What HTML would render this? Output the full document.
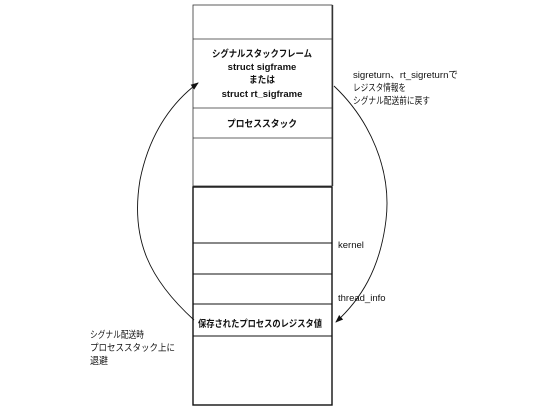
<!DOCTYPE html>
<html><head><meta charset="utf-8"><style>
html,body{margin:0;padding:0;background:#fff;}
svg text{font-family:"Liberation Sans","Noto Sans CJK JP",sans-serif;font-size:9.5px;fill:#111;}
</style></head><body>
<svg width="549" height="412" viewBox="0 0 549 412">
<defs><marker id="ah" markerWidth="8" markerHeight="8" refX="7" refY="4" orient="auto" markerUnits="userSpaceOnUse"><path d="M0,1 L8,4 L0,7 Z" fill="#111"/></marker></defs>
<g fill="none" stroke="#333" stroke-width="0.8">
<rect x="193" y="5" width="139" height="181"/>
<line x1="193" y1="39" x2="332" y2="39"/>
<line x1="193" y1="108" x2="332" y2="108"/>
<line x1="193" y1="138" x2="332" y2="138"/>
<line x1="332.5" y1="5" x2="332.5" y2="186" stroke-width="1.4"/>
</g>
<g fill="none" stroke="#111" stroke-width="1.4">
<rect x="193" y="187" width="139" height="218"/>
<line x1="193" y1="243" x2="332" y2="243" stroke-width="1"/>
<line x1="193" y1="274" x2="332" y2="274" stroke-width="1"/>
<line x1="193" y1="304" x2="332" y2="304" stroke-width="1"/>
<line x1="193" y1="336" x2="332" y2="336" stroke-width="1"/>
</g>
<g text-anchor="middle" font-weight="bold">
<text x="262" y="57" textLength="100" lengthAdjust="spacingAndGlyphs">シグナルスタックフレーム</text>
<text x="262" y="70">struct sigframe</text>
<text x="262" y="83" textLength="26" lengthAdjust="spacingAndGlyphs">または</text>
<text x="262" y="97">struct rt_sigframe</text>
<text x="262" y="127" textLength="70" lengthAdjust="spacingAndGlyphs">プロセススタック</text>
</g>
<text x="198" y="327" font-weight="bold" textLength="124" lengthAdjust="spacingAndGlyphs">保存されたプロセスのレジスタ値</text>
<text x="353" y="78" textLength="105" lengthAdjust="spacingAndGlyphs">sigreturn、rt_sigreturnで</text>
<text x="353" y="91" textLength="53" lengthAdjust="spacingAndGlyphs">レジスタ情報を</text>
<text x="353" y="104" textLength="77" lengthAdjust="spacingAndGlyphs">シグナル配送前に戻す</text>
<text x="338" y="248">kernel</text>
<text x="338" y="301">thread_info</text>
<text x="90" y="338" textLength="54" lengthAdjust="spacingAndGlyphs">シグナル配送時</text>
<text x="90" y="351" textLength="85" lengthAdjust="spacingAndGlyphs">プロセススタック上に</text>
<text x="90" y="364" textLength="18" lengthAdjust="spacingAndGlyphs">退避</text>
<path d="M194,320 C150,280 130,240 140,180 C150,130 175,100 198,83" fill="none" stroke="#111" stroke-width="0.9" marker-end="url(#ah)"/>
<path d="M334,86 C370,120 392,170 386,220 C380,270 360,300 336,322" fill="none" stroke="#111" stroke-width="0.9" marker-end="url(#ah)"/>
</svg>
</body></html>
